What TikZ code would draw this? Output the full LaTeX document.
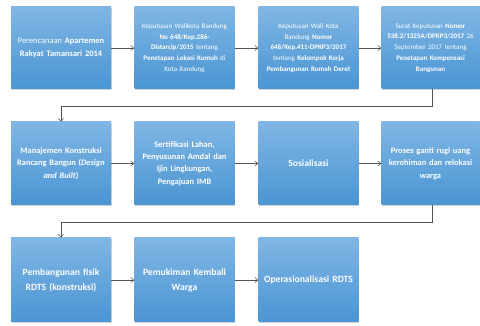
\documentclass[tikz,border=0pt]{standalone}
\usepackage{fontspec}
\setmainfont{Carlito}
\usetikzlibrary{arrows.meta,shadows}
\definecolor{boxtop}{RGB}{128,182,228}
\definecolor{boxbot}{RGB}{74,149,211}
\definecolor{linkgray}{RGB}{85,85,85}
\tikzset{
  stepbox/.style={rectangle,minimum width=100pt,minimum height=82pt,text width=98pt,
    align=center,inner sep=1pt,text=white,top color=boxtop,bottom color=boxbot,
    drop shadow={opacity=0.35,shadow xshift=0.6pt,shadow yshift=-1.2pt}},
  link/.style={linkgray,line width=0.6pt,-{Straight Barb[length=3pt,width=5pt]}},
  small/.style={font=\fontsize{7}{10.8}\selectfont},
  mid/.style={font=\fontsize{8.4}{12.4}\selectfont},
  big/.style={font=\fontsize{9.6}{15}\selectfont}
}
\begin{document}
\begin{tikzpicture}[x=1pt,y=-1pt]
  \useasboundingbox (0,0) rectangle (480,326);
  % baris pertama
  \node[stepbox,mid] (plan) at (61,48) {Perencanaan \textbf{Apartemen}\\ \textbf{Rakyat Tamansari 2014}};
  \node[stepbox,small] (lokasi) at (184.5,48) {Keputusan Walikota Bandung\\ \textbf{No 648/Kep.286-}\\ \textbf{Distarcip/2015} tentang\\ \textbf{Penetapan Lokasi Kumuh} di\\ Kota Bandung};
  \node[stepbox,small] (pokja) at (308.5,48) {Keputusan Wali Kota\\ Bandung \textbf{Nomor}\\ \textbf{648/Kep.411-DPKP3/2017}\\ tentang \textbf{Kelompok Kerja}\\ \textbf{Pembangunan Rumah Deret}};
  \node[stepbox,small,minimum width=97pt,text width=96pt] (kompen) at (430.5,48) {Surat Keputusan \textbf{Nomor}\\ \textbf{538.2/1325A/DPKP3/2017} 26\\ September 2017 tentang\\ \textbf{Penetapan Kompensasi}\\ \textbf{Bangunan}};
  % baris kedua
  \node[stepbox,mid,minimum height=83pt] (mk) at (61,163.5) {\textbf{Manajemen Konstruksi}\\ \textbf{Rancang Bangun (\textit{Design}}\\ \textbf{\textit{and Built})}};
  \node[stepbox,mid,minimum height=83pt] (izin) at (184.5,163.5) {\textbf{Sertifikasi Lahan,}\\ \textbf{Penyusunan Amdal dan}\\ \textbf{Ijin Lingkungan,}\\ \textbf{Pengajuan IMB}};
  \node[stepbox,big,minimum height=83pt] (sosial) at (308.5,163.5) {\textbf{Sosialisasi}};
  \node[stepbox,mid,minimum height=83pt,minimum width=97pt,text width=96pt] (ganti) at (430.5,163.5) {\textbf{Proses ganti rugi uang}\\ \textbf{kerohiman dan relokasi}\\ \textbf{warga}};
  % baris ketiga
  \node[stepbox,big,minimum height=84pt] (fisik) at (61,280) {\textbf{Pembangunan fisik}\\ \textbf{RDTS (konstruksi)}};
  \node[stepbox,big,minimum height=84pt] (mukim) at (184.5,280) {\textbf{Pemukiman Kembali}\\ \textbf{Warga}};
  \node[stepbox,big,minimum height=84pt] (ops) at (308.5,280) {\textbf{Operasionalisasi RDTS}};
  % panah
  \draw[link] (plan) -- (lokasi);
  \draw[link] (lokasi) -- (pokja);
  \draw[link] (pokja) -- (kompen);
  \draw[link] (mk) -- (izin);
  \draw[link] (izin) -- (sosial);
  \draw[link] (sosial) -- (ganti);
  \draw[link] (fisik) -- (mukim);
  \draw[link] (mukim) -- (ops);
  \coordinate (turnA) at (0,106);
  \coordinate (turnB) at (0,222);
  \draw[link] ([xshift=2pt]kompen.south) -- ([xshift=2pt]kompen.south |- turnA) -- (mk.north |- turnA) -- (mk.north);
  \draw[link] ([xshift=2pt]ganti.south) -- ([xshift=2pt]ganti.south |- turnB) -- (fisik.north |- turnB) -- (fisik.north);
\end{tikzpicture}
\end{document}
